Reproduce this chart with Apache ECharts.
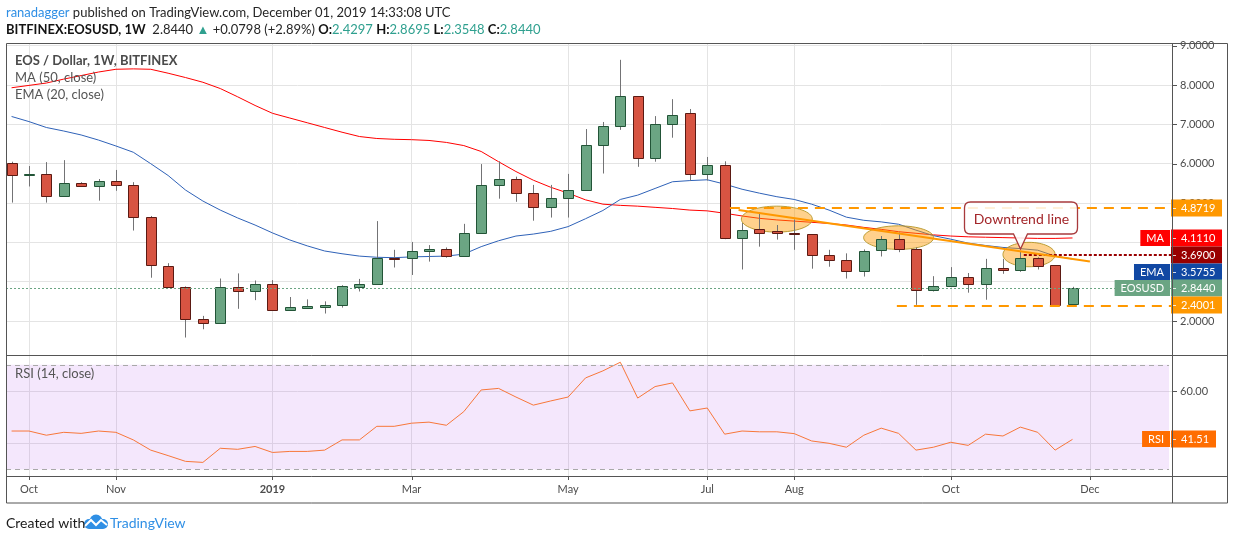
<!DOCTYPE html>
<html>
<head>
<meta charset="utf-8">
<title>EOS / Dollar, 1W, BITFINEX</title>
<script src="https://cdn.jsdelivr.net/npm/echarts@6/dist/echarts.min.js"></script>
<style>
html, body { margin: 0; padding: 0; background: #fff; }
#chart { width: 1234px; height: 540px; }
</style>
</head>
<body>
<div id="chart"></div>
<script>
// weekly bars, index 0 = week of 2018-09-24 ... index 61 = week of 2019-11-25
var OPEN = [6.01, 5.70, 5.75, 5.19, 5.50, 5.42, 5.55, 5.47, 4.64, 3.40,
    2.87, 2.04, 1.94, 2.87, 2.75, 2.93, 2.27, 2.34, 2.36, 2.40,
    2.87, 2.93, 3.61, 3.59, 3.77, 3.82, 3.66, 4.25, 5.47, 5.60,
    5.25, 4.89, 5.12, 5.32, 6.47, 6.95, 7.71, 6.14, 7.00, 7.28,
    5.75, 5.96, 4.10, 4.33, 4.29, 4.24, 4.20, 3.69, 3.54, 3.26,
    3.80, 4.08, 3.82, 2.78, 2.90, 3.11, 2.93, 3.34, 3.29, 3.59,
    3.42, 2.4297];
var HIGH = [6.05, 5.94, 6.04, 6.09, 5.53, 5.61, 5.84, 5.53, 4.67, 3.47,
    2.88, 2.13, 3.08, 3.21, 3.03, 3.04, 2.61, 2.55, 2.50, 2.91,
    3.07, 4.54, 3.81, 4.01, 3.93, 3.87, 4.47, 5.99, 6.06, 5.67,
    5.46, 5.46, 5.74, 6.88, 7.06, 8.64, 7.71, 7.21, 7.64, 7.39,
    6.17, 6.06, 4.49, 4.77, 4.44, 4.58, 4.20, 3.81, 3.72, 3.82,
    4.16, 4.25, 3.87, 3.14, 3.37, 3.22, 3.58, 3.58, 3.77, 3.62,
    3.42, 2.8695];
var LOW = [5.01, 5.42, 5.01, 5.18, 5.41, 5.06, 5.31, 4.30, 3.10, 2.85,
    1.58, 1.79, 1.94, 2.31, 2.53, 2.27, 2.27, 2.34, 2.19, 2.34,
    2.75, 2.93, 3.36, 3.17, 3.51, 3.61, 3.64, 4.23, 5.11, 5.03,
    4.55, 4.63, 4.63, 5.32, 5.75, 6.86, 5.92, 6.05, 6.66, 5.57,
    5.57, 4.08, 3.31, 3.89, 4.07, 3.81, 3.33, 3.38, 3.08, 3.13,
    3.64, 3.75, 2.41, 2.75, 2.90, 2.72, 2.54, 3.20, 3.25, 3.31,
    2.36, 2.3548];
var CLOSE = [5.70, 5.75, 5.19, 5.50, 5.42, 5.55, 5.47, 4.64, 3.42, 2.87,
    2.04, 1.94, 2.86, 2.75, 2.93, 2.27, 2.35, 2.38, 2.41, 2.88,
    2.93, 3.60, 3.58, 3.77, 3.82, 3.66, 4.25, 5.47, 5.60, 5.25,
    4.89, 5.12, 5.32, 6.47, 6.95, 7.71, 6.14, 7.00, 7.25, 5.75,
    5.96, 4.10, 4.31, 4.25, 4.23, 4.20, 3.69, 3.54, 3.26, 3.77,
    4.08, 3.82, 2.78, 2.90, 3.11, 2.93, 3.34, 3.29, 3.59, 3.39,
    2.41, 2.8440];
var MA50 = [7.93, 7.99, 8.05, 8.15, 8.24, 8.33, 8.40, 8.41, 8.40, 8.30,
    8.19, 8.07, 7.91, 7.70, 7.48, 7.28, 7.16, 7.04, 6.92, 6.80,
    6.69, 6.64, 6.62, 6.61, 6.59, 6.54, 6.46, 6.31, 6.05, 5.80,
    5.58, 5.40, 5.25, 5.08, 4.97, 4.94, 4.92, 4.89, 4.86, 4.82,
    4.80, 4.74, 4.67, 4.61, 4.57, 4.54, 4.51, 4.48, 4.44, 4.38,
    4.33, 4.27, 4.23, 4.19, 4.16, 4.14, 4.13, 4.12, 4.11, 4.10,
    4.10, 4.111];
var EMA20 = [7.20, 7.07, 6.92, 6.83, 6.73, 6.60, 6.45, 6.29, 6.00, 5.70,
    5.33, 5.05, 4.82, 4.62, 4.44, 4.24, 4.06, 3.91, 3.78, 3.71,
    3.65, 3.62, 3.61, 3.63, 3.64, 3.65, 3.70, 3.89, 4.04, 4.16,
    4.21, 4.28, 4.40, 4.60, 4.81, 5.09, 5.20, 5.37, 5.54, 5.57,
    5.59, 5.48, 5.35, 5.25, 5.16, 5.09, 4.97, 4.82, 4.64, 4.56,
    4.52, 4.46, 4.31, 4.17, 4.08, 3.98, 3.92, 3.87, 3.84, 3.80,
    3.65, 3.5755];
var RSI14 = [44.7, 44.7, 43.1, 44.2, 43.8, 44.7, 44.2, 41.3, 37.4, 35.3,
    33.1, 32.7, 38.1, 37.7, 38.8, 36.5, 36.9, 36.9, 37.4, 41.3,
    41.3, 46.5, 46.5, 47.7, 48.1, 46.9, 52.1, 60.4, 61.0, 57.7,
    54.6, 56.2, 57.7, 65.0, 67.7, 71.0, 57.3, 61.7, 63.1, 52.4,
    53.5, 43.5, 44.7, 44.4, 44.4, 43.7, 40.9, 40.0, 38.5, 43.1,
    45.8, 43.8, 37.4, 38.5, 40.4, 39.2, 43.5, 42.8, 46.2, 44.2,
    37.4, 41.51];

// axis labels
var X_LABEL_AT = [1, 6, 15, 23, 32, 40, 45, 54, 62];
var X_LABELS = ['Oct', 'Nov', '2019', 'Mar', 'May', 'Jul', 'Aug', 'Oct', 'Dec'];
var Y_TICKS = [2, 3, 4, 5, 6, 7, 8, 9];
var RSI_TICKS = [40, 60];
var RSI_LABELS = [60];

// drawings on the chart (bar index, price)
var RESIST = [41.3, 4.8719];
var SUPPORT = [50.9, 2.4001];
var PIVOT = [58.2, 3.69];
var TREND = [[41.8, 4.82], [62.0, 3.51]];
var ELLIPSES = [[44.0, 4.59, 2.04, 0.33], [51.0, 4.12, 2.01, 0.30], [58.5, 3.69, 1.5, 0.31]];
var CALLOUT = [[58.0, 3.83]];
var CALLOUT_TEXT = 'Downtrend line';

// price tags on the right scale
var TAG_VALUES = [4.8719, 4.1110, 3.6900, 3.5755, 2.8440, 2.4001];
var TAG_NAMES = ['', 'MA', '', 'EMA', 'EOSUSD', ''];
var RSI_LAST = 41.51;

// styles
var TAG_COLORS = ['#ff9800', '#ff0000', '#990000', '#1148a3', '#6ba583', '#ff9800'];
var TAG_SHIFT = [0, 0, 0, 13, 0, 0];
var FONT = 'Lato, "Open Sans", sans-serif';
var XMIN = -0.32, XMAX = 66.72;
var RSI_MIN = 27.5, RSI_MAX = 73.77;
var LAST = CLOSE[CLOSE.length - 1];

var candles = OPEN.map(function (o, i) {
    return [i, o, CLOSE[i], LOW[i], HIGH[i]];
});
function pairs(arr) {
    return arr.map(function (v, i) { return [i, v]; });
}

var chart = echarts.init(document.getElementById('chart'));

function renderCandle(params, api) {
    var i = api.value(0), o = api.value(1), c = api.value(2), l = api.value(3), h = api.value(4);
    var pO = api.coord([i, o]), pC = api.coord([i, c]);
    var pL = api.coord([i, l]), pH = api.coord([i, h]);
    var x = Math.round(pO[0]) + 0.5;
    var up = c >= o;
    var top = Math.round(Math.min(pO[1], pC[1])) + 0.5;
    var bot = Math.round(Math.max(pO[1], pC[1])) + 0.5;
    return {
        type: 'group',
        children: [{
            type: 'line',
            shape: {x1: x, y1: pH[1], x2: x, y2: pL[1]},
            style: {stroke: '#737375', lineWidth: 1}
        }, {
            type: 'rect',
            shape: {x: x - 5, y: top, width: 10, height: Math.max(bot - top, 1)},
            style: {
                fill: up ? '#6ba583' : '#d75442',
                stroke: up ? '#225437' : '#5b1a13',
                lineWidth: 1
            }
        }]
    };
}

function renderEllipse(params, api) {
    var c = api.coord([api.value(0), api.value(1)]);
    var s = api.size([api.value(2), api.value(3)]);
    return {
        type: 'ellipse',
        shape: {cx: c[0], cy: c[1], rx: s[0], ry: s[1]},
        style: {fill: 'rgba(255,152,0,0.45)', stroke: 'rgba(180,150,40,0.9)', lineWidth: 1}
    };
}

function renderCallout(params, api) {
    var p = api.coord([api.value(0), api.value(1)]);
    var x = Math.round(p[0]) + 0.5, y = Math.round(p[1]);
    var L = x - 56, R = x + 57, T = y - 47, B = y - 15, r = 6;
    var d = 'M' + (L + r) + ',' + T + ' L' + (R - r) + ',' + T + ' Q' + R + ',' + T + ' ' + R + ',' + (T + r) +
        ' L' + R + ',' + (B - r) + ' Q' + R + ',' + B + ' ' + (R - r) + ',' + B +
        ' L' + (x + 7) + ',' + B + ' L' + x + ',' + y + ' L' + (x - 7) + ',' + B +
        ' L' + (L + r) + ',' + B + ' Q' + L + ',' + B + ' ' + L + ',' + (B - r) +
        ' L' + L + ',' + (T + r) + ' Q' + L + ',' + T + ' ' + (L + r) + ',' + T + ' Z';
    return {
        type: 'group',
        children: [{
            type: 'path',
            shape: {pathData: d},
            style: {fill: 'rgba(255,255,255,0.85)', stroke: '#a83a3c', lineWidth: 1.3}
        }, {
            type: 'text',
            style: {
                text: CALLOUT_TEXT, x: x + 1, y: (T + B) / 2 + 1,
                align: 'center', verticalAlign: 'middle',
                fill: '#a3262a', font: '14px ' + FONT
            }
        }]
    };
}

function tagGroup(ax, y, value, name, col, width) {
    var kids = [{
        type: 'rect',
        shape: {x: ax - 1, y: y - 8.5, width: width, height: 17},
        style: {fill: col}
    }, {
        type: 'line',
        shape: {x1: ax, y1: y + 0.5, x2: ax + 4, y2: y + 0.5},
        style: {stroke: 'rgba(255,255,255,0.8)', lineWidth: 1}
    }, {
        type: 'text',
        style: {text: value, x: ax + 9, y: y, align: 'left', verticalAlign: 'middle',
            fill: '#fff', font: '11px ' + FONT}
    }];
    if (name) {
        kids.push({
            type: 'text',
            style: {text: name, x: ax - 2, y: y, align: 'right', verticalAlign: 'middle',
                fill: '#fff', font: '11px ' + FONT, backgroundColor: col, padding: [3, 6, 2, 6]}
        });
    }
    return {type: 'group', children: kids};
}

function renderTag(params, api) {
    var k = params.dataIndex;
    var p = api.coord([api.value(0), api.value(1)]);
    var y = Math.round(p[1]) + TAG_SHIFT[k];
    return tagGroup(Math.round(p[0]), y, TAG_VALUES[k].toFixed(4), TAG_NAMES[k], TAG_COLORS[k], 51);
}

function renderRsiTag(params, api) {
    var p = api.coord([api.value(0), api.value(1)]);
    return tagGroup(Math.round(p[0]), Math.round(p[1]), RSI_LAST.toFixed(2), 'RSI', '#ff6d00', 45);
}

// short scale ticks, right of the price / rsi panes
function renderYTick(params, api) {
    var p = api.coord([api.value(0), api.value(1)]);
    var y = Math.round(p[1]) + 0.5;
    return {type: 'line', shape: {x1: p[0], y1: y, x2: p[0] + 5, y2: y}, style: {stroke: '#555', lineWidth: 1}};
}
// short time ticks, under the rsi pane
function renderXTick(params, api) {
    var p = api.coord([api.value(0), api.value(1)]);
    var x = Math.round(p[0]) + 0.5;
    return {type: 'line', shape: {x1: x, y1: p[1], x2: x, y2: p[1] + 4}, style: {stroke: '#555', lineWidth: 1}};
}

function lvl(from, color, type) {
    return [{coord: from, lineStyle: {color: color, width: 2, type: type}}, {coord: [XMAX, from[1]]}];
}

var gridLine = {show: true, lineStyle: {color: '#e4e4e4', width: 1}};
var axisText = {color: '#4c4c4c', fontSize: 11, fontFamily: FONT};
var noLine = {show: false, onZero: false};

option = {
    animation: false,
    backgroundColor: '#fff',
    grid: [
        {left: 6, top: 43, width: 1166, height: 312},
        {left: 6, top: 355, width: 1166, height: 121}
    ],
    xAxis: [{
        type: 'value', gridIndex: 0, min: XMIN, max: XMAX,
        axisLine: noLine,
        axisTick: {show: false, customValues: X_LABEL_AT},
        axisLabel: {show: false},
        splitLine: gridLine
    }, {
        type: 'value', gridIndex: 1, min: XMIN, max: XMAX,
        axisLine: noLine,
        axisTick: {show: false, customValues: X_LABEL_AT},
        axisLabel: {
            customValues: X_LABEL_AT, margin: 8,
            color: '#4c4c4c', fontSize: 11, fontFamily: FONT,
            formatter: function (v) {
                var k = X_LABEL_AT.indexOf(Math.round(v));
                if (k < 0) return '';
                return /^\d+$/.test(X_LABELS[k]) ? '{y|' + X_LABELS[k] + '}' : X_LABELS[k];
            },
            rich: {y: {fontWeight: 'bold', color: '#4c4c4c', fontSize: 11, fontFamily: FONT}}
        },
        splitLine: gridLine
    }],
    yAxis: [{
        type: 'value', gridIndex: 0, position: 'right', min: 1.1355, max: 9.068,
        axisLine: noLine,
        axisTick: {show: false, customValues: Y_TICKS},
        axisLabel: Object.assign({customValues: Y_TICKS, margin: 8,
            formatter: function (v) { return v.toFixed(4); }}, axisText),
        splitLine: gridLine
    }, {
        type: 'value', gridIndex: 1, position: 'right', min: RSI_MIN, max: RSI_MAX,
        axisLine: noLine,
        axisTick: {show: false, customValues: RSI_TICKS},
        axisLabel: Object.assign({customValues: RSI_LABELS, margin: 8,
            formatter: function (v) { return v.toFixed(2); }}, axisText),
        splitLine: gridLine
    }],
    series: [{
        type: 'custom', name: 'marks', renderItem: renderEllipse, data: ELLIPSES,
        xAxisIndex: 0, yAxisIndex: 0, z: 3, silent: true
    }, {
        type: 'line', name: 'MA (50, close)', data: pairs(MA50),
        xAxisIndex: 0, yAxisIndex: 0, symbol: 'none', z: 2,
        lineStyle: {color: '#ff0000', width: 1},
        markLine: {
            silent: true, symbol: ['none', 'none'], label: {show: false},
            data: [
                [{coord: [XMIN, LAST], lineStyle: {color: '#6ba583', width: 1, type: [2, 2]}}, {coord: [XMAX, LAST]}],
                lvl(RESIST, '#ff9800', [10, 7]),
                lvl(SUPPORT, '#ff9800', [10, 7]),
                lvl(PIVOT, '#990000', [3, 2])
            ]
        }
    }, {
        type: 'line', name: 'EMA (20, close)', data: pairs(EMA20),
        xAxisIndex: 0, yAxisIndex: 0, symbol: 'none', z: 2,
        lineStyle: {color: '#2f62b8', width: 1}
    }, {
        type: 'custom', name: 'EOSUSD', renderItem: renderCandle, data: candles,
        encode: {x: 0, y: [1, 2, 3, 4]},
        xAxisIndex: 0, yAxisIndex: 0, z: 4, clip: true
    }, {
        type: 'line', name: 'trend', data: TREND,
        xAxisIndex: 0, yAxisIndex: 0, symbol: 'none', z: 5,
        lineStyle: {color: '#ff9800', width: 2}
    }, {
        type: 'custom', name: 'callout', renderItem: renderCallout, data: CALLOUT,
        xAxisIndex: 0, yAxisIndex: 0, z: 6, clip: false
    }, {
        type: 'custom', name: 'priceTicks', renderItem: renderYTick,
        data: Y_TICKS.map(function (v) { return [XMAX, v]; }),
        xAxisIndex: 0, yAxisIndex: 0, z: 9, clip: false, silent: true
    }, {
        type: 'custom', name: 'tags', renderItem: renderTag,
        data: TAG_VALUES.map(function (v) { return [XMAX, v]; }),
        xAxisIndex: 0, yAxisIndex: 0, z: 10, clip: false
    }, {
        type: 'line', name: 'RSI (14, close)', data: pairs(RSI14),
        xAxisIndex: 1, yAxisIndex: 1, symbol: 'none', z: 4,
        lineStyle: {color: '#f8773a', width: 1},
        markArea: {
            silent: true,
            itemStyle: {color: 'rgba(175,88,235,0.14)'},
            data: [[{coord: [XMIN, 70]}, {coord: [66.55, 30]}]]
        },
        markLine: {
            silent: true, symbol: ['none', 'none'], label: {show: false},
            lineStyle: {color: '#a9a9a9', width: 1, type: [5, 4]},
            data: [
                [{coord: [XMIN, 70]}, {coord: [66.55, 70]}],
                [{coord: [XMIN, 30]}, {coord: [66.55, 30]}]
            ]
        }
    }, {
        type: 'custom', name: 'rsiTicks', renderItem: renderYTick,
        data: RSI_TICKS.map(function (v) { return [XMAX, v]; }),
        xAxisIndex: 1, yAxisIndex: 1, z: 9, clip: false, silent: true
    }, {
        type: 'custom', name: 'timeTicks', renderItem: renderXTick,
        data: X_LABEL_AT.map(function (i) { return [i, RSI_MIN]; }),
        xAxisIndex: 1, yAxisIndex: 1, z: 9, clip: false, silent: true
    }, {
        type: 'custom', name: 'rsiTag', renderItem: renderRsiTag,
        data: [[XMAX, RSI_LAST]],
        xAxisIndex: 1, yAxisIndex: 1, z: 10, clip: false
    }],
    graphic: [
        // frame
        {type: 'rect', z: 100, silent: true, shape: {x: 6.5, y: 43.5, width: 1221, height: 459.5},
            style: {fill: null, stroke: '#555', lineWidth: 1}},
        {type: 'line', z: 100, silent: true, shape: {x1: 1172.5, y1: 43.5, x2: 1172.5, y2: 503}, style: {stroke: '#555', lineWidth: 1}},
        {type: 'line', z: 100, silent: true, shape: {x1: 6.5, y1: 355.5, x2: 1227.5, y2: 355.5}, style: {stroke: '#555', lineWidth: 1}},
        {type: 'line', z: 100, silent: true, shape: {x1: 6.5, y1: 476.5, x2: 1227.5, y2: 476.5}, style: {stroke: '#555', lineWidth: 1}},
        // header
        {type: 'text', z: 100, silent: true, style: {
            x: 6, y: 13, verticalAlign: 'middle',
            text: '{u|ranadagger}{t| published on TradingView.com, December 01, 2019 14:33:08 UTC}',
            rich: {
                u: {fill: '#2f8fe5', font: '13px ' + FONT},
                t: {fill: '#262626', font: '13px ' + FONT}
            }
        }},
        {type: 'text', z: 100, silent: true, style: {
            x: 6, y: 30, verticalAlign: 'middle',
            text: '{b|BITFINEX:EOSUSD, 1W}{t|  2.8440 }{g|▲}{t| +0.0798 (+2.89%) }{b|O:}{g|2.4297}{t| }{b|H:}{g|2.8695}{t| }{b|L:}{g|2.3548}{t| }{b|C:}{g|2.8440}',
            rich: {
                b: {fill: '#131313', font: 'bold 13px ' + FONT},
                t: {fill: '#262626', font: '13px ' + FONT},
                g: {fill: '#2fa08f', font: '13px ' + FONT}
            }
        }},
        // pane legends
        {type: 'text', z: 100, silent: true, style: {x: 15, y: 61, verticalAlign: 'middle',
            text: 'EOS / Dollar, 1W, BITFINEX', fill: '#4a4a4a', font: 'bold 13px ' + FONT}},
        {type: 'text', z: 100, silent: true, style: {x: 15, y: 78, verticalAlign: 'middle',
            text: 'MA (50, close)', fill: '#555', font: '13px ' + FONT}},
        {type: 'text', z: 100, silent: true, style: {x: 15, y: 95, verticalAlign: 'middle',
            text: 'EMA (20, close)', fill: '#555', font: '13px ' + FONT}},
        {type: 'text', z: 100, silent: true, style: {x: 15, y: 374, verticalAlign: 'middle',
            text: 'RSI (14, close)', fill: '#555', font: '13px ' + FONT}},
        // footer
        {type: 'text', z: 100, silent: true, style: {x: 6, y: 523, verticalAlign: 'middle',
            text: 'Created with', fill: '#1a1a1a', font: '14px ' + FONT}},
        {type: 'group', z: 100, silent: true, x: 83, y: 514, children: [
            {type: 'circle', shape: {cx: 6, cy: 10, r: 5}, style: {fill: '#2f8fe5'}},
            {type: 'circle', shape: {cx: 13, cy: 7, r: 6.5}, style: {fill: '#2f8fe5'}},
            {type: 'circle', shape: {cx: 20, cy: 10, r: 5}, style: {fill: '#2f8fe5'}},
            {type: 'rect', shape: {x: 6, y: 9, width: 14, height: 6}, style: {fill: '#2f8fe5'}},
            {type: 'polyline', shape: {points: [[2, 12], [8, 6], [13, 11], [18, 6], [24, 11]]},
                style: {stroke: '#fff', lineWidth: 2, fill: null}}
        ]},
        {type: 'text', z: 100, silent: true, style: {x: 110, y: 523, verticalAlign: 'middle',
            text: 'TradingView', fill: '#2f8fe5', font: '14px ' + FONT}}
    ]
};

chart.setOption(option);
window.addEventListener('resize', function () {
    chart.resize();
});
</script>
</body>
</html>
